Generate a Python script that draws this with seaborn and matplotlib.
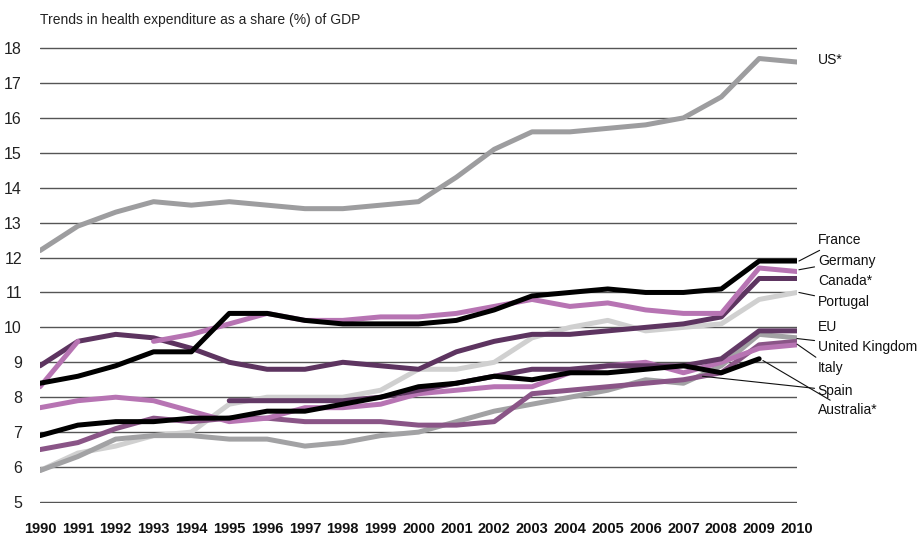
import numpy as np
import pandas as pd
import matplotlib
matplotlib.use("Agg")
import matplotlib.pyplot as plt
import seaborn as sns

nan = np.nan

# Data (% of GDP)
years = list(range(1990, 2011))
us = [12.2, 12.9, 13.3, 13.6, 13.5, 13.6, 13.5, 13.4, 13.4, 13.5, 13.6,
      14.3, 15.1, 15.6, 15.6, 15.7, 15.8, 16.0, 16.6, 17.7, 17.6]
france = [8.4, 8.6, 8.9, 9.3, 9.3, 10.4, 10.4, 10.2, 10.1, 10.1, 10.1,
          10.2, 10.5, 10.9, 11.0, 11.1, 11.0, 11.0, 11.1, 11.9, 11.9]
germany = [8.3, 9.6, nan, 9.6, 9.8, 10.1, 10.4, 10.2, 10.2, 10.3, 10.3,
           10.4, 10.6, 10.8, 10.6, 10.7, 10.5, 10.4, 10.4, 11.7, 11.6]
canada = [8.9, 9.6, 9.8, 9.7, 9.4, 9.0, 8.8, 8.8, 9.0, 8.9, 8.8,
          9.3, 9.6, 9.8, 9.8, 9.9, 10.0, 10.1, 10.3, 11.4, 11.4]
portugal = [5.9, 6.4, 6.6, 6.9, 7.0, 7.8, 8.0, 8.0, 8.0, 8.2, 8.8,
            8.8, 9.0, 9.7, 10.0, 10.2, 9.9, 10.0, 10.1, 10.8, 11.0]
eu = [nan, nan, nan, nan, nan, 7.9, 7.9, 7.9, 7.9, 8.0, 8.2,
      8.4, 8.6, 8.8, 8.8, 8.9, 8.9, 8.9, 9.1, 9.9, 9.9]
uk = [5.9, 6.3, 6.8, 6.9, 6.9, 6.8, 6.8, 6.6, 6.7, 6.9, 7.0,
      7.3, 7.6, 7.8, 8.0, 8.2, 8.5, 8.4, 8.9, 9.8, 9.7]
italy = [7.7, 7.9, 8.0, 7.9, 7.6, 7.3, 7.4, 7.7, 7.7, 7.8, 8.1,
         8.2, 8.3, 8.3, 8.7, 8.9, 9.0, 8.7, 9.0, 9.4, 9.5]
spain = [6.5, 6.7, 7.1, 7.4, 7.3, 7.4, 7.4, 7.3, 7.3, 7.3, 7.2,
         7.2, 7.3, 8.1, 8.2, 8.3, 8.4, 8.5, 8.7, 9.5, 9.6]
australia = [6.9, 7.2, 7.3, 7.3, 7.4, 7.4, 7.6, 7.6, 7.8, 8.0, 8.3,
             8.4, 8.6, 8.5, 8.7, 8.7, 8.8, 8.9, 8.7, 9.1, nan]

series = {
    "US*": us, "Portugal": portugal, "United Kingdom": uk, "Spain": spain,
    "Italy": italy, "EU": eu, "Canada*": canada, "Australia*": australia,
    "Germany": germany, "France": france,
}
colors = {
    "US*": "#9d9d9f", "France": "#000000", "Germany": "#b774b3",
    "Canada*": "#5d3460", "Portugal": "#d0d0d0", "EU": "#633966",
    "United Kingdom": "#a2a2a4", "Italy": "#b774b3", "Spain": "#8a5587",
    "Australia*": "#000000",
}

# label positions (value axis) and where the leader line touches the series
labels = [
    ("US*", 17.65, None),
    ("France", 12.5, (2010.05, 11.9)),
    ("Germany", 11.9, (2010.05, 11.65)),
    ("Canada*", 11.33, None),
    ("Portugal", 10.73, (2010.05, 11.0)),
    ("EU", 10.02, None),
    ("United Kingdom", 9.45, (2010.0, 9.68)),
    ("Italy", 8.85, (2010.0, 9.52)),
    ("Spain", 8.19, (2007.5, 8.6)),
    ("Australia*", 7.62, (2009.1, 9.05)),
]

sns.set_style("white")
plt.rcParams["font.family"] = ["Liberation Sans", "DejaVu Sans"]

fig = plt.figure(figsize=(9.19, 5.39), dpi=100)
ax = fig.add_axes([40 / 919, 36 / 539, 757 / 919, 456 / 539])

for name, vals in series.items():
    df = pd.DataFrame({"year": years, "value": vals})
    # split at missing values so gaps stay gaps
    df["seg"] = df["value"].isna().cumsum()
    df = df.dropna()
    for _, part in df.groupby("seg"):
        sns.lineplot(data=part, x="year", y="value", ax=ax, color=colors[name],
                     lw=3.6, solid_capstyle="round", solid_joinstyle="round",
                     zorder=3)

ax.set_xlim(1990, 2010)
ax.set_ylim(4.97, 18.03)
ax.set_yticks(range(5, 19))
ax.set_xticks(years)
ax.set_xticklabels([str(y) for y in years], fontweight="bold", fontsize=10.5)
ax.tick_params(axis="y", labelsize=11.5, length=0, pad=13, colors="#222222")
ax.tick_params(axis="x", length=0, pad=14, colors="#111111")
ax.set_xlabel("")
ax.set_ylabel("")
for s in ax.spines.values():
    s.set_visible(False)
ax.grid(axis="y", color="#555555", lw=1.0, zorder=0)
ax.grid(axis="x", visible=False)

for name, ty, touch in labels:
    if touch is None:
        ax.text(2010.55, ty, name, fontsize=10, va="center", ha="left",
                color="#111111", clip_on=False)
    else:
        ax.annotate(name, xy=touch, xytext=(2010.55, ty), textcoords="data",
                    fontsize=10, va="center", ha="left", color="#111111",
                    annotation_clip=False,
                    arrowprops=dict(arrowstyle="-", lw=0.8, color="#111111",
                                    shrinkA=0, shrinkB=0))

fig.text(40 / 919, 1 - 20 / 539, "Trends in health expenditure as a share (%) of GDP",
         fontsize=10, va="center", ha="left", color="#222222")

fig.savefig("out.png", dpi=100)
